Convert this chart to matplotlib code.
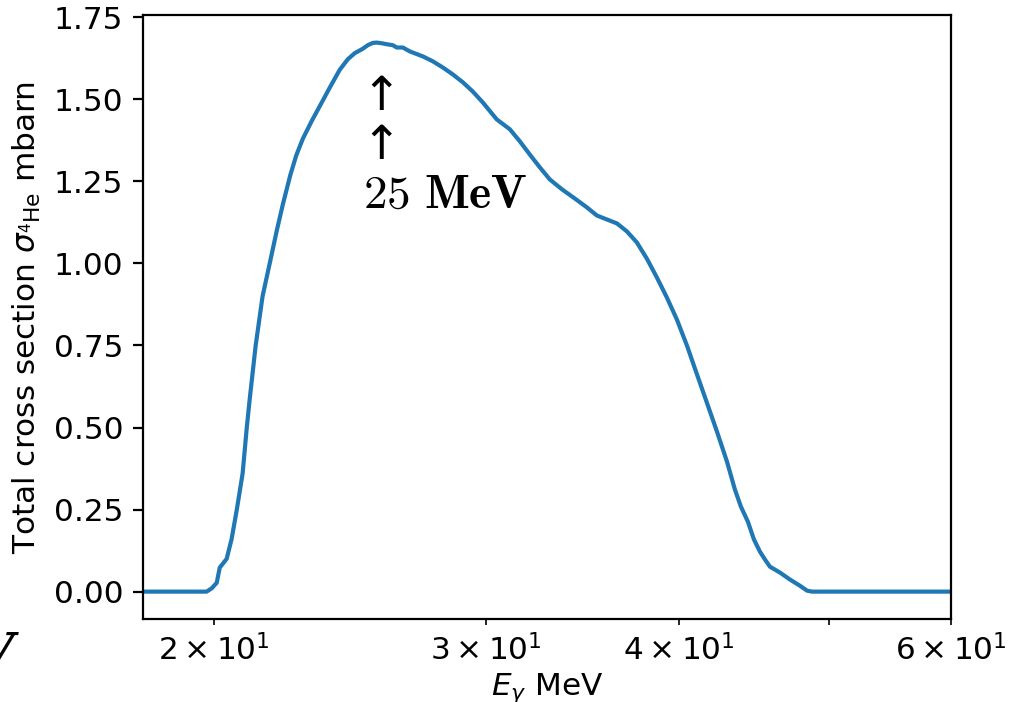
import matplotlib
matplotlib.use("Agg")
import matplotlib.pyplot as plt

# Photon energy (MeV) and total 4He cross section (mbarn)
energy = [18.0, 19.79, 19.94, 20.09, 20.18, 20.39, 20.54, 20.70, 20.88, 21.01,
          21.10, 21.29, 21.51, 21.74, 21.97, 22.17, 22.42, 22.62, 22.84, 23.15,
          23.49, 23.77, 24.13, 24.42, 24.68, 24.97, 25.16, 25.35, 25.50, 25.69,
          25.88, 26.12, 26.27, 26.51, 26.79, 27.31, 27.72, 28.14, 28.56, 28.99,
          29.42, 29.86, 30.49, 31.09, 31.56, 32.03, 32.51, 33.00, 33.60, 34.25,
          34.87, 35.40, 35.93, 36.47, 37.01, 37.57, 38.13, 38.71, 39.29, 39.88,
          40.48, 41.09, 41.70, 42.33, 42.97, 43.48, 43.87, 44.33, 44.73, 45.13,
          45.47, 45.81, 46.50, 47.19, 47.90, 48.41, 48.77, 60.0]
sigma = [0.0, 0.0, 0.01, 0.027, 0.073, 0.10, 0.16, 0.25, 0.36, 0.50,
         0.585, 0.75, 0.90, 1.00, 1.10, 1.18, 1.27, 1.33, 1.38, 1.435,
         1.49, 1.535, 1.59, 1.622, 1.641, 1.654, 1.665, 1.672, 1.673, 1.671,
         1.668, 1.665, 1.658, 1.658, 1.646, 1.631, 1.616, 1.597, 1.576, 1.552,
         1.524, 1.491, 1.439, 1.409, 1.372, 1.332, 1.293, 1.256, 1.226, 1.198,
         1.171, 1.146, 1.134, 1.122, 1.098, 1.064, 1.015, 0.957, 0.896, 0.829,
         0.75, 0.662, 0.576, 0.488, 0.396, 0.311, 0.259, 0.213, 0.159, 0.122,
         0.098, 0.076, 0.058, 0.037, 0.018, 0.003, 0.0, 0.0]

peak_energy = 25.0
peak_label = r"$\mathbf{25\ MeV}$"

plt.rcParams["font.size"] = 11.2

fig = plt.figure(figsize=(5.1, 3.51), dpi=200)
ax = fig.add_axes([0.1402, 0.1182, 0.7922, 0.8604])

ax.plot(energy, sigma, color="tab:blue", lw=1.5)
ax.set_xscale("log")
ax.set_xlim(18, 60)
ax.set_ylim(-0.0835, 1.757)
ax.set_yticks([0.0, 0.25, 0.5, 0.75, 1.0, 1.25, 1.5, 1.75])
ax.set_yticklabels(["0.00", "0.25", "0.50", "0.75", "1.00", "1.25", "1.50", "1.75"])

ax.set_xlabel(r"$E_\gamma$ MeV", labelpad=2)
ax.set_ylabel(r"Total cross section $\sigma_{^4\mathrm{He}}$ mbarn")

# Peak marker: two arrows above the energy label
ax.text(25.66, 1.505, "\u2191", ha="center", va="center", fontsize=17,
        family="DejaVu Sans")
ax.text(25.66, 1.357, "\u2191", ha="center", va="center", fontsize=17,
        family="DejaVu Sans")
ax.text(peak_energy, 1.171, peak_label, ha="left", va="baseline", fontsize=17,
        math_fontfamily="cm")

fig.text(13 / 1020, 1 - 672 / 702, "V", ha="right", va="baseline", fontsize=20,
         family="DejaVu Serif", fontweight="bold", fontstyle="italic")

fig.savefig("out.png", dpi=200)
